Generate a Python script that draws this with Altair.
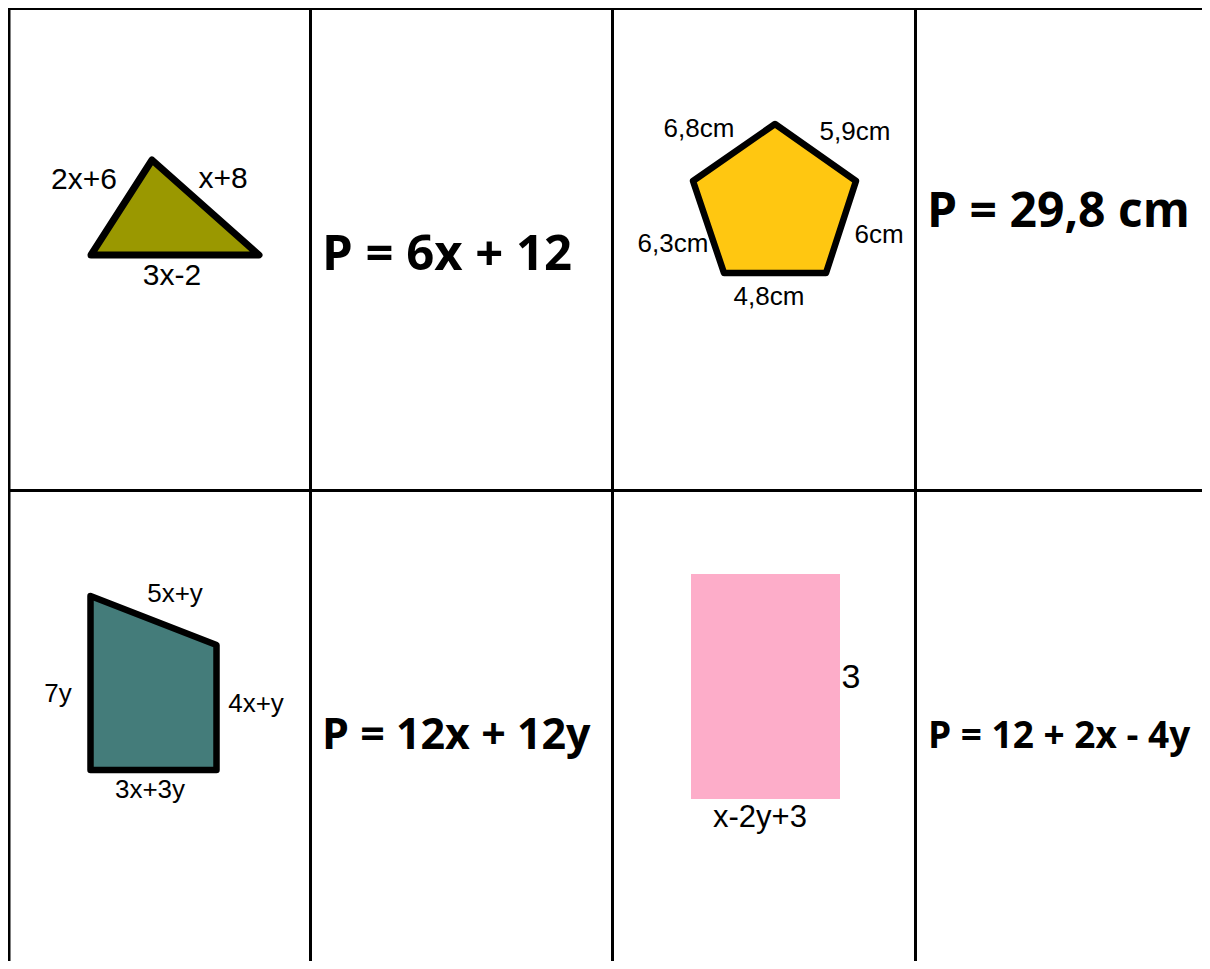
import altair as alt
import pandas as pd

# ---- canvas ----
W, H = 1194, 953          # plot area = whole chart (padding 0)
OFF = 8                   # page margin; data below are in page pixels

# ---- table grid ----
grid_cols = [9, 310.5, 612.5, 915.5]
grid_rows = [8.5, 490.5]
grid_start_x, grid_end_x = 7.5, 1230
grid_start_y, grid_end_y = 7, 990

# ---- shapes (vertices) ----
triangle = [[91, 255], [152, 160], [259, 255]]
pentagon = [[775, 124], [856, 181], [826, 273], [724, 273], [693, 181]]
quadrilateral = [[90.5, 596], [216.5, 645], [216.5, 770], [90.5, 770]]
rectangle = [[691, 574], [840, 574], [840, 799], [691, 799]]

shape_fill = ["#9a9800", "#ffc711", "#447c7a", "#fdadc9"]
shape_stroke_w = [7, 6.5, 6.5, 0]

# ---- side labels ----
tri_text = ["2x+6", "x+8", "3x-2"]
tri_x = [84, 223, 172]
tri_y = [189, 188, 285]

pent_text = ["6,8cm", "5,9cm", "6cm", "6,3cm", "4,8cm"]
pent_x = [699, 855, 879, 673, 769]
pent_y = [137, 140, 243, 252, 305]

quad_text = ["5x+y", "7y", "4x+y", "3x+3y"]
quad_x = [175, 58, 256, 150]
quad_y = [602, 702, 712, 798]

rect_text = ["3", "x-2y+3"]
rect_x = [851, 760]
rect_y = [688, 827]
rect_size = [34, 31]

# ---- answers ----
answers = ["P = 6x + 12", "P = 29,8 cm", "P = 12x + 12y", "P = 12 + 2x - 4y"]
answer_x = [322, 927, 322, 928]
answer_y = [270, 227, 749, 748]
answer_size = [49, 48, 43, 37]

# ---------------------------------------------------------------
xs = alt.Scale(domain=[OFF, OFF + W], nice=False, zero=False)
ys = alt.Scale(domain=[OFF, OFF + H], nice=False, zero=False, reverse=True)

def X(f="x"):
    return alt.X(f"{f}:Q", scale=xs, axis=None)

def Y(f="y"):
    return alt.Y(f"{f}:Q", scale=ys, axis=None)

vlines = pd.DataFrame({"x": grid_cols, "y": grid_start_y, "y2": grid_end_y})
hlines = pd.DataFrame({"y": grid_rows, "x": grid_start_x, "x2": grid_end_x})

vrule = alt.Chart(vlines).mark_rule(color="black", strokeWidth=3).encode(
    x=X(), y=Y(), y2="y2:Q")
hrule = alt.Chart(hlines).mark_rule(color="black", strokeWidth=3).encode(
    x=X(), x2="x2:Q", y=Y())

def feature(ring, fill, sw):
    ring = list(ring) + [ring[0]]
    return {"type": "Feature",
            "geometry": {"type": "Polygon", "coordinates": [ring]},
            "properties": {"fill": fill, "sw": sw}}

proj = dict(type="identity", scale=1, translate=[-OFF, -OFF])

shape_layers = []
for ring, fill, sw in zip([triangle, pentagon, quadrilateral, rectangle],
                          shape_fill, shape_stroke_w):
    mk = dict(fill=fill, strokeJoin="round")
    if sw > 0:
        mk.update(stroke="black", strokeWidth=sw)
    else:
        mk.update(strokeWidth=0, stroke=fill, strokeOpacity=0)
    layer = alt.Chart(alt.Data(values=[feature(ring, fill, sw)])).mark_geoshape(
        **mk).project(**proj)
    shape_layers.append(layer)

def labels(texts, xx, yy, size, font):
    df = pd.DataFrame({"t": texts, "x": xx, "y": yy})
    return alt.Chart(df).mark_text(
        font=font, fontSize=size, color="black", align="center",
        baseline="alphabetic").encode(x=X(), y=Y(), text="t:N")

lab_tri = labels(tri_text, tri_x, tri_y, 30, "Liberation Sans")
lab_pent = labels(pent_text, pent_x, pent_y, 26, "Liberation Sans")
lab_quad = labels(quad_text, quad_x, quad_y, 26, "Liberation Sans")

rect_df = pd.DataFrame({"t": rect_text, "x": rect_x, "y": rect_y, "s": rect_size})
lab_rect = alt.Chart(rect_df).mark_text(
    font="Liberation Sans", color="black", align="center",
    baseline="alphabetic").encode(
    x=X(), y=Y(), text="t:N", size=alt.Size("s:Q", scale=None, legend=None))

ans_df = pd.DataFrame({"t": answers, "x": answer_x, "y": answer_y, "s": answer_size})
ans = alt.Chart(ans_df).mark_text(
    font="Open Sans", fontWeight="bold", color="black", align="left",
    baseline="alphabetic").encode(
    x=X(), y=Y(), text="t:N", size=alt.Size("s:Q", scale=None, legend=None))

chart = alt.layer(
    *shape_layers, vrule, hrule, lab_tri, lab_pent, lab_quad, lab_rect, ans
).properties(
    width=W, height=H, padding=0,
    autosize=alt.AutoSizeParams(type="none"),
    background="white",
).configure_view(stroke=None)

chart.save("out.html", embed_options={"renderer": "svg", "actions": False})
